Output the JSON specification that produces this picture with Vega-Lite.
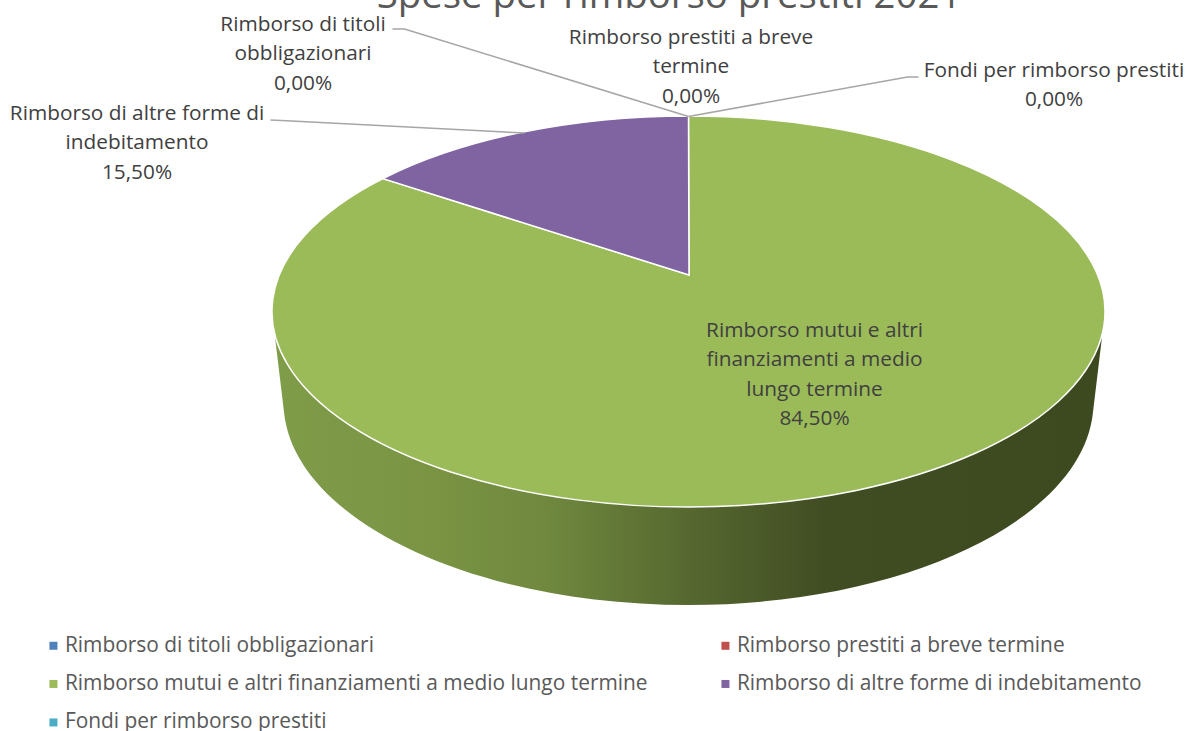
{
"$schema":"https://vega.github.io/schema/vega-lite/v6.json",
"width":1190,"height":731,"padding":0,"autosize":"none","background":"white",
"config":{"view":{"stroke":null},"font":"Open Sans"},
"title":{"text":"Spese per rimborso prestiti 2021","font":"Open Sans","fontSize":38.4,"fontWeight":"normal","color":"#595959","anchor":"middle","frame":"group","baseline":"alphabetic","offset":0,"dx":74,"dy":46},
"data":{"values":[
{"voce":"Rimborso di titoli obbligazionari","quota":0,"ordine":1,"etichetta":"Rimborso di titoli\nobbligazionari\n0,00%"},
{"voce":"Rimborso prestiti a breve termine","quota":0,"ordine":2,"etichetta":"Rimborso prestiti a breve\ntermine\n0,00%"},
{"voce":"Rimborso mutui e altri finanziamenti a medio lungo termine","quota":84.5,"ordine":3,"etichetta":"Rimborso mutui e altri\nfinanziamenti a medio\nlungo termine\n84,50%"},
{"voce":"Rimborso di altre forme di indebitamento","quota":15.5,"ordine":4,"etichetta":"Rimborso di altre forme di\nindebitamento\n15,50%"},
{"voce":"Fondi per rimborso prestiti","quota":0,"ordine":5,"etichetta":"Fondi per rimborso prestiti\n0,00%"}
]},
"resolve":{"scale":{"x":"independent","y":"independent","shape":"independent"}},
"layer":[
{"transform":[{"filter":"datum.ordine == 3"}],
 "mark":{"type":"point","filled":true,"opacity":1,"size":4,"strokeWidth":0,
  "shape":"M-413.5,25.5 L-404.5,100.5 A405,203 0 0 0 404.5,100.5 L413.5,25.5 Z",
  "fill":{"gradient":"linear","x1":0,"y1":0,"x2":1,"y2":0,"stops":[{"offset":0,"color":"#7f9c49"},{"offset":0.19,"color":"#7a9443"},{"offset":0.33,"color":"#6f883e"},{"offset":0.5,"color":"#566830"},{"offset":0.67,"color":"#404c22"},{"offset":1,"color":"#3d4a20"}]}},
 "encoding":{
  "x":{"field":"ordine","type":"quantitative","axis":null,"scale":{"domain":[1,5],"range":[688.5,688.5],"nice":false,"zero":false}},
  "y":{"field":"ordine","type":"quantitative","axis":null,"scale":{"domain":[1,5],"range":[311.5,311.5],"nice":false,"zero":false}}}},
{"mark":{"type":"point","filled":true,"opacity":1,"size":4,"stroke":"#ffffff","strokeWidth":1.5},
 "encoding":{
  "x":{"field":"ordine","type":"quantitative","axis":null,"scale":{"domain":[1,5],"range":[688.5,688.5],"nice":false,"zero":false}},
  "y":{"field":"ordine","type":"quantitative","axis":null,"scale":{"domain":[1,5],"range":[311.5,311.5],"nice":false,"zero":false}},
  "shape":{"field":"voce","type":"nominal","legend":null,"sort":null,"scale":{"domain":["Rimborso di titoli obbligazionari","Rimborso prestiti a breve termine","Rimborso mutui e altri finanziamenti a medio lungo termine","Rimborso di altre forme di indebitamento","Fondi per rimborso prestiti"],"range":["M0,0","M0,0","M0.5,-36.5 L0,-195.5 A416.5,195.5 0 1 1 -305.5,-132.9 Z","M0.5,-36.5 L0,-195.5 A416.5,195.5 0 0 0 -305.5,-132.9 Z","M0,0"]}},
  "color":{"field":"voce","type":"nominal","sort":null,
   "scale":{"domain":["Rimborso di titoli obbligazionari","Rimborso mutui e altri finanziamenti a medio lungo termine","Fondi per rimborso prestiti","Rimborso prestiti a breve termine","Rimborso di altre forme di indebitamento"],"range":["#4F81BD","#9BBB59","#4BACC6","#C0504D","#8064A2"]},
   "legend":{"orient":"none","legendX":43,"legendY":635,"columns":2,"title":null,"symbolType":"square","symbolSize":64,"symbolStrokeWidth":0,"symbolOpacity":1,"labelFont":"Open Sans","labelFontSize":20.9,"labelColor":"#595959","labelOffset":1,"rowPadding":16.5,"columnPadding":67,"labelLimit":800}}}},
{"mark":{"type":"point","filled":false,"opacity":1,"size":4,"stroke":"#A6A6A6","strokeWidth":1.5},
 "encoding":{
  "x":{"field":"ordine","type":"quantitative","axis":null,"scale":{"domain":[1,5],"range":[688.5,688.5],"nice":false,"zero":false}},
  "y":{"field":"ordine","type":"quantitative","axis":null,"scale":{"domain":[1,5],"range":[311.5,311.5],"nice":false,"zero":false}},
  "shape":{"field":"voce","type":"nominal","legend":null,"sort":null,"scale":{"domain":["Rimborso di titoli obbligazionari","Rimborso prestiti a breve termine","Rimborso mutui e altri finanziamenti a medio lungo termine","Rimborso di altre forme di indebitamento","Fondi per rimborso prestiti"],"range":["M-296,-282.5 L-284,-282.5 L0,-195","M0,0","M0,0","M-418,-191.5 L-397,-190.5 L-164,-178.5","M230,-234.5 L219,-234.5 L0,-195"]}}}},
{"mark":{"type":"text","font":"Open Sans","fontSize":20.8,"color":"#404040","align":"center","baseline":"alphabetic","lineBreak":"\n","lineHeight":29.3},
 "encoding":{
  "x":{"field":"ordine","type":"quantitative","axis":null,"scale":{"domain":[1,2,3,4,5],"range":[303,691,814.5,137,1054],"nice":false,"zero":false}},
  "y":{"field":"ordine","type":"quantitative","axis":null,"scale":{"domain":[1,2,3,4,5],"range":[31,44,337,120,77],"nice":false,"zero":false}},
  "text":{"field":"etichetta","type":"nominal"}}}
]}
